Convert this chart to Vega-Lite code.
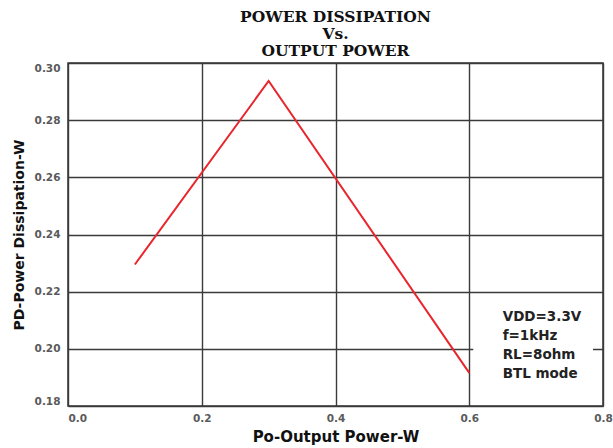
{
  "$schema": "https://vega.github.io/schema/vega-lite/v6.json",
  "width": 535,
  "height": 343,
  "autosize": {"type": "none"},
  "padding": {"left": 68, "top": 63, "right": 10, "bottom": 42},
  "background": "white",
  "title": {
    "text": ["POWER DISSIPATION", "Vs.", "OUTPUT POWER"],
    "font": "DejaVu Serif",
    "fontWeight": "bold",
    "fontSize": 15.5,
    "lineHeight": 17,
    "color": "#111",
    "anchor": "middle",
    "offset": 4
  },
  "config": {
    "view": {"stroke": "#333", "strokeWidth": 1.5},
    "axis": {
      "domain": false,
      "ticks": false,
      "grid": true,
      "gridColor": "#3a3a3a",
      "gridWidth": 1.4,
      "gridOpacity": 1,
      "labelFont": "DejaVu Sans",
      "labelFontWeight": "bold",
      "labelFontSize": 10.5,
      "labelColor": "#5a5a5a",
      "titleFont": "DejaVu Sans",
      "titleFontWeight": "bold",
      "titleColor": "#111"
    }
  },
  "datasets": {
    "curve": [
      {"po": 0.1, "pd": 0.2295},
      {"po": 0.3, "pd": 0.2937},
      {"po": 0.6, "pd": 0.1916}
    ],
    "box": [
      {"x1": 0.606, "x2": 0.785, "y1": 0.1855, "y2": 0.2165}
    ],
    "notes": [
      {"x": 0.65, "y": 0.2112, "label": "VDD=3.3V"},
      {"x": 0.65, "y": 0.2046, "label": "f=1kHz"},
      {"x": 0.65, "y": 0.1979, "label": "RL=8ohm"},
      {"x": 0.65, "y": 0.1912, "label": "BTL mode"}
    ]
  },
  "layer": [
    {
      "data": {"name": "box"},
      "mark": {"type": "rect", "fill": "white", "stroke": null},
      "encoding": {
        "x": {"field": "x1", "type": "quantitative", "title": "Po-Output Power-W"},
        "x2": {"field": "x2"},
        "y": {"field": "y1", "type": "quantitative", "title": "PD-Power Dissipation-W"},
        "y2": {"field": "y2"}
      }
    },
    {
      "data": {"name": "curve"},
      "mark": {"type": "line", "color": "#e8262c", "strokeWidth": 2},
      "encoding": {
        "x": {
          "field": "po",
          "type": "quantitative",
          "title": "Po-Output Power-W",
          "scale": {"domain": [0, 0.8], "nice": false, "zero": false},
          "axis": {
            "values": [0, 0.2, 0.4, 0.6, 0.8],
            "format": ".1f",
            "labelFlush": false,
            "labelAlign": {"condition": {"test": "datum.value == 0", "value": "left"}, "value": "center"},
            "labelPadding": 7,
            "titleFontSize": 15,
            "titlePadding": 6
          }
        },
        "y": {
          "field": "pd",
          "type": "quantitative",
          "title": "PD-Power Dissipation-W",
          "scale": {"domain": [0.18, 0.30], "nice": false, "zero": false},
          "axis": {
            "values": [0.18, 0.2, 0.22, 0.24, 0.26, 0.28, 0.3],
            "format": ".2f",
            "labelFlush": true,
            "labelPadding": 8,
            "titleFontSize": 14,
            "titlePadding": 8
          }
        }
      }
    },
    {
      "data": {"name": "notes"},
      "mark": {"type": "text", "align": "left", "baseline": "middle", "font": "DejaVu Sans", "fontWeight": "bold", "fontSize": 13.5, "color": "#222"},
      "encoding": {
        "x": {"field": "x", "type": "quantitative", "title": "Po-Output Power-W"},
        "y": {"field": "y", "type": "quantitative", "title": "PD-Power Dissipation-W"},
        "text": {"field": "label"}
      }
    }
  ]
}
